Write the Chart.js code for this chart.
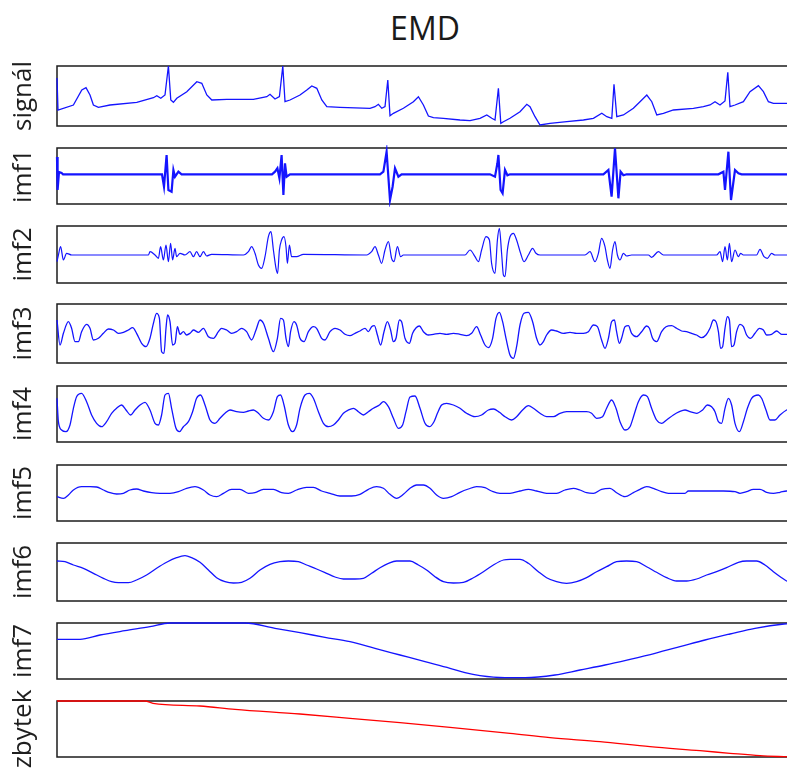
<!DOCTYPE html>
<html><head><meta charset="utf-8">
<script src="https://cdn.jsdelivr.net/npm/chart.js@4.4.1/dist/chart.umd.min.js"></script>
<style>
html,body{margin:0;padding:0;background:#fff;width:787px;height:769px;overflow:hidden;}
#wrap{position:relative;width:787px;height:769px;overflow:hidden;background:#fff;}
#title{position:absolute;left:0;top:12px;width:850px;text-align:center;font-family:'Open Sans',sans-serif;font-size:32px;line-height:32px;color:#1a1a1a;}
canvas{position:absolute;left:0;}
</style></head>
<body><div id="wrap"><div id="title">EMD</div></div>
<script>
// ---- data: [sample index, amplitude] ----
const rowLabels = ['signál','imf1','imf2','imf3','imf4','imf5','imf6','imf7','zbytek'];
const sampleCount = 3680;

const signal = [[0,18],[5,-14],[82,-9],[124,6],[145,8.3],[165,1],[182,-9],[207,-11.3],[265,-9],[399,-6.3],[482,-1.7],[499,0.3],[519,-2.3],[540,1],[557,30],[569,-4],[582,-6.3],[599,-2.3],[649,4.3],[699,14.3],[724,12.7],[749,1],[774,-4],[849,-3.3],[982,-3.3],[1049,-0.7],[1065,1.7],[1090,-3],[1112,-0.7],[1129,30],[1140,-5.7],[1165,-4],[1215,1],[1249,6],[1274,10],[1299,7.7],[1324,-4],[1349,-10.7],[1415,-11.3],[1565,-12.3],[1590,-10.7],[1607,-8.3],[1624,-12.3],[1640,-10.7],[1654,16],[1665,-19.7],[1682,-17.3],[1732,-12.3],[1782,-5.7],[1807,-0.7],[1832,-9],[1857,-20],[1882,-21.7],[1932,-22.3],[2015,-24],[2065,-24.7],[2115,-22.3],[2149,-19],[2174,-22.3],[2190,-24],[2207,7.7],[2219,-27.3],[2232,-25.7],[2265,-22.3],[2315,-15.7],[2349,-8.3],[2365,-10.7],[2390,-20.7],[2415,-29],[2465,-27.3],[2549,-25.7],[2632,-24],[2682,-22.3],[2724,-17.3],[2749,-20.7],[2774,-22.3],[2785,11.7],[2799,-20.7],[2832,-19],[2882,-12.3],[2915,-5.7],[2949,1],[2974,-5.7],[2999,-19],[3032,-17.3],[3082,-14],[3182,-12.3],[3232,-10.7],[3265,-9],[3290,-5.7],[3315,-9],[3340,-5],[3354,23.7],[3365,-10.7],[3390,-9],[3432,-5.7],[3465,4.3],[3507,10.3],[3532,4.3],[3557,-5.7],[3582,-7.3],[3649,-7.3],[3680,-7]];

const imf1 = [[0,19],[3,-14],[10,4],[23,3],[30,1.7],[525,1.7],[535,-10.7],[548,21],[557,-14],[573,-15.7],[582,6],[590,-0.7],[607,4.3],[623,1.7],[1075,1.7],[1090,4.3],[1102,7.7],[1112,-2.3],[1123,21],[1132,-19],[1140,12.7],[1148,-0.7],[1165,1.7],[1615,1.7],[1632,4.3],[1648,24.3],[1665,-24],[1678,-10.7],[1690,7.7],[1707,-0.7],[1723,1.7],[2165,1.7],[2190,-0.7],[2202,12.7],[2207,21],[2218,-14],[2228,-17.3],[2240,6],[2252,0.7],[2265,1.7],[2732,1.7],[2757,6],[2773,-20.7],[2790,27.7],[2807,-22.3],[2818,4.3],[2832,0.7],[2848,1.7],[3307,1.7],[3332,4.3],[3340,-14],[3357,24.3],[3370,-24],[3390,6],[3407,2.7],[3423,1.7],[3680,1.7]];

const imf2 = [[0,-7.2],[7,-0.5],[18,7.8],[32,-5.5],[48,1.2],[73,-0.5],[457,-0.5],[465,2.8],[490,-0.5],[507,-3.8],[518,7.8],[532,-5.5],[545,9.5],[557,-7.2],[568,11.2],[578,-5.5],[590,6.2],[598,-2.2],[615,1.2],[640,-0.5],[665,2.8],[682,-2.2],[698,2.8],[715,-2.2],[732,2.8],[748,-1.5],[773,0.2],[932,-0.5],[957,2.8],[973,7.8],[990,1.2],[1007,-10.5],[1023,-13.8],[1040,-2.2],[1057,17.8],[1070,22.8],[1082,4.5],[1095,-13.8],[1103,-18.8],[1112,4.5],[1123,14.5],[1135,17.8],[1145,7.8],[1152,-8.8],[1162,9.5],[1173,-2.2],[1198,-2.2],[1232,0.2],[1548,-0.5],[1573,2.8],[1590,7.8],[1607,-0.5],[1623,-8.8],[1640,4.5],[1657,12.8],[1673,-3.8],[1685,-7.2],[1702,7.8],[1718,-2.2],[1732,-0.5],[2040,-0.5],[2065,4.5],[2090,-2.2],[2107,-7.2],[2123,4.5],[2145,17.8],[2162,14.5],[2173,-8.8],[2190,-18.8],[2202,14.5],[2212,26.2],[2223,1.2],[2232,-20.5],[2240,-22.2],[2252,4.5],[2265,17.8],[2282,21.2],[2298,14.5],[2318,1.2],[2335,-7.2],[2357,-0.5],[2378,6.2],[2395,1.2],[2415,-0.5],[2640,-0.5],[2665,2.8],[2690,-7.2],[2707,1.2],[2723,16.2],[2740,7.8],[2752,-5.5],[2765,-13.8],[2778,4.5],[2790,12.8],[2802,-0.5],[2815,-5.5],[2832,1.2],[2848,-1.5],[2873,-0.5],[2957,-0.5],[2973,-2.8],[3007,2.8],[3032,-0.5],[3298,-0.5],[3315,2.8],[3328,-7.2],[3340,7.8],[3352,-5.5],[3362,11.2],[3373,-7.2],[3390,4.5],[3407,-2.2],[3418,1.2],[3432,-0.5],[3498,-0.5],[3515,5.2],[3535,-2.2],[3552,-3.8],[3573,1.2],[3590,-0.5],[3680,-0.5]];

const imf3 = [[0,13.5],[15,-11.5],[32,0.2],[57,11.8],[73,5.2],[90,-8.2],[107,-8.2],[123,1.8],[148,9.2],[165,5.2],[182,-6.5],[207,-4.8],[232,0.2],[257,4.5],[282,3.5],[307,0.2],[332,1.2],[357,3.5],[378,5.8],[398,0.2],[423,-9.8],[445,-13.2],[465,-4.8],[482,10.2],[498,20.2],[512,15.2],[523,-18.2],[535,-19.8],[545,5.2],[553,18.5],[565,11.8],[578,-11.5],[590,-9.8],[602,6.8],[615,-0.8],[632,1.8],[648,-1.5],[665,0.2],[682,3.5],[707,1.2],[732,5.2],[757,-3.2],[782,-4.8],[807,1.8],[823,5.2],[848,3.5],[873,0.2],[898,1.8],[923,5.2],[948,1.8],[973,-6.5],[995,3.5],[1015,13.5],[1032,10.2],[1057,-4.8],[1082,-18.2],[1102,-4.8],[1118,15.2],[1132,13.5],[1145,-4.8],[1157,-13.2],[1168,1.8],[1185,11.8],[1198,8.5],[1215,-4.8],[1235,-8.2],[1257,1.8],[1282,6.8],[1298,5.2],[1323,-4.8],[1340,-6.5],[1365,1.8],[1390,5.2],[1415,3.5],[1440,-0.8],[1465,-2.2],[1490,0.2],[1515,2.5],[1540,5.2],[1557,1.8],[1573,6.8],[1587,7.8],[1602,-1.5],[1618,-11.5],[1635,1.8],[1652,11.8],[1668,3.5],[1682,-8.2],[1695,-4.8],[1712,13.5],[1723,11.8],[1740,-4.8],[1762,-9.8],[1778,0.2],[1812,7.5],[1832,1.8],[1857,-1.5],[1882,-0.8],[1915,0.2],[1948,-0.8],[1982,0.2],[2015,-0.8],[2048,-2.2],[2073,0.2],[2098,6.8],[2118,-1.5],[2140,-11.5],[2157,-14.2],[2178,-4.8],[2195,15.2],[2212,21.2],[2228,11.8],[2245,-4.8],[2265,-21.5],[2282,-24.8],[2298,-13.2],[2315,8.5],[2335,20.2],[2357,21.2],[2378,11.8],[2398,-4.8],[2415,-11.5],[2432,-8.2],[2448,-1.5],[2473,3.5],[2498,2.5],[2532,0.2],[2565,1.2],[2598,0.2],[2632,0.2],[2657,1.8],[2682,8.5],[2702,6.8],[2723,-6.5],[2740,-14.8],[2757,-4.8],[2773,11.8],[2787,13.5],[2798,1.8],[2812,-9.8],[2823,-4.8],[2840,6.8],[2857,7.8],[2873,0.2],[2898,-3.2],[2923,1.8],[2948,7.5],[2962,5.2],[2978,-4.8],[2998,-8.2],[3023,1.8],[3045,6.8],[3073,7.8],[3098,5.2],[3123,2.5],[3148,1.8],[3173,0.2],[3198,-1.5],[3223,-4.2],[3245,-1.5],[3265,5.2],[3282,13.5],[3295,11.8],[3307,1.8],[3318,-14.8],[3328,-13.2],[3340,5.2],[3352,16.8],[3362,13.5],[3373,-13.2],[3385,-11.5],[3398,1.8],[3415,9.2],[3432,6.8],[3448,-1.5],[3468,-4.8],[3490,0.2],[3512,5.2],[3532,3.5],[3548,-1.5],[3573,-0.8],[3598,2.5],[3623,-0.8],[3648,-0.8],[3680,-0.8]];

const imf4 = [[0,15.7],[7,-7.7],[23,-16],[45,-17.7],[65,-11],[82,5.7],[98,17.3],[123,20.7],[148,12.3],[173,-1],[198,-9.3],[223,-12.7],[248,-7.7],[273,0.7],[298,5.7],[323,9],[345,4],[368,-1],[390,4],[415,9],[440,11.7],[465,4],[490,-9.3],[507,-11],[523,-1],[540,19],[557,20.7],[573,5.7],[595,-14.3],[612,-17.7],[632,-12.7],[657,-7.7],[678,2.3],[698,15.7],[718,19],[740,9],[765,-6],[790,-9.3],[815,-4.3],[840,0.7],[865,4],[898,2.3],[932,1.7],[957,3],[982,4],[1007,0.7],[1032,-4.3],[1057,-6],[1082,2.3],[1102,17.3],[1118,19],[1135,9],[1157,-11],[1178,-17.7],[1198,-11],[1215,5.7],[1240,19],[1262,20.7],[1282,15.7],[1307,2.3],[1332,-9.3],[1357,-12.7],[1382,-11],[1407,-6],[1432,0.7],[1457,4],[1482,5.7],[1507,2.3],[1532,-1],[1557,2.3],[1582,5.7],[1612,9],[1632,12.3],[1657,7.3],[1682,-4.3],[1707,-14.3],[1728,-11],[1745,2.3],[1765,17],[1790,18],[1815,5.7],[1840,-9.3],[1862,-12.7],[1885,-7.7],[1902,0.7],[1923,9],[1948,10.7],[1982,9],[2015,5.7],[2048,0.7],[2090,-2.7],[2123,-1],[2157,4],[2182,5],[2212,1.7],[2240,-2.7],[2273,-6],[2298,-2.7],[2328,4],[2357,8.3],[2382,5.7],[2415,0.7],[2448,-2.7],[2482,-2.7],[2515,0.7],[2548,2.3],[2598,2.3],[2648,2.3],[2673,0.7],[2698,-4.3],[2728,-2.7],[2748,5.7],[2773,14],[2795,5.7],[2815,-7.7],[2840,-16],[2865,-12.7],[2885,-1],[2907,12.3],[2932,19],[2952,17.3],[2973,5.7],[2998,-6],[3023,-9.3],[3048,-6],[3082,-1],[3112,2.3],[3140,4],[3165,2.3],[3198,0.7],[3228,4],[3252,9],[3273,7.3],[3290,2.3],[3307,-7.7],[3323,-9.3],[3340,5.7],[3357,15.7],[3373,9],[3390,-9.3],[3412,-17.7],[3432,-7.7],[3452,5.7],[3473,15.7],[3507,19],[3523,15.7],[3545,4],[3565,-6],[3590,-6],[3615,-1],[3648,4],[3680,6]];

const imf5 = [[0,-3.7],[32,-5.3],[57,-2],[82,3],[123,6.3],[165,6.3],[198,6],[232,3],[265,0.3],[298,-1],[332,-0.3],[365,3],[398,4],[432,2],[473,0.3],[515,-0.3],[565,-0.3],[607,1.3],[648,4.7],[690,6.3],[732,3],[765,-2],[798,-3.7],[832,-0.3],[873,3.7],[915,3.7],[957,-0.3],[990,0.3],[1032,3.7],[1082,3.7],[1123,0.3],[1157,-0.3],[1198,3],[1248,5.7],[1282,5.7],[1323,2],[1365,-0.3],[1415,-3],[1473,-3],[1515,-1.3],[1557,3.7],[1598,6.3],[1632,4.7],[1665,-1.3],[1698,-5.3],[1732,-1.3],[1765,4.7],[1798,8],[1832,8],[1865,4.7],[1898,-2],[1932,-5.3],[1973,-3.7],[2015,0.7],[2057,4],[2098,6.3],[2140,5.3],[2173,2],[2215,-0.3],[2265,-0.3],[2315,2],[2357,3.7],[2398,2],[2448,-0.3],[2498,-0.3],[2540,3],[2582,4.7],[2615,3],[2648,0.3],[2682,-0.3],[2723,3.7],[2765,4.7],[2798,0.3],[2840,-3.7],[2882,0.3],[2915,3.7],[2948,6.3],[2982,4.7],[3023,1.3],[3057,-0.3],[3098,-0.3],[3140,-0.3],[3157,2],[3215,2],[3265,2],[3332,2],[3390,1.3],[3415,-0.3],[3448,1.3],[3482,3.7],[3515,3.7],[3548,0.7],[3582,-0.3],[3615,0.7],[3648,2],[3680,2]];

const imf6 = [[0,11],[40,10.3],[82,7],[132,3.7],[182,-1.3],[232,-6.3],[273,-9.7],[307,-10.7],[357,-10.7],[398,-8],[448,-3],[498,3.7],[548,9.7],[598,14.3],[640,16.3],[673,14.3],[715,9.7],[757,2],[798,-5.7],[840,-9.7],[882,-11],[923,-10.3],[965,-6.3],[1015,2],[1065,7.7],[1115,10.3],[1157,11],[1207,10.3],[1248,7],[1298,3],[1348,-1.3],[1390,-5],[1432,-7],[1490,-7],[1532,-6.3],[1573,-1.3],[1615,4.3],[1657,8.7],[1698,11],[1740,11],[1765,11],[1807,7],[1848,2],[1890,-4.7],[1932,-9.7],[1982,-11],[2032,-10.3],[2082,-5.7],[2132,0.3],[2182,7],[2232,12],[2265,12.7],[2315,12.7],[2357,8.7],[2407,0.3],[2448,-5.7],[2498,-9.7],[2548,-11.3],[2598,-9.7],[2648,-5.7],[2698,0.3],[2748,5.3],[2798,10.3],[2848,11],[2898,10.3],[2948,5.3],[2998,-0.3],[3048,-5.7],[3098,-9],[3148,-9],[3198,-7],[3248,-3],[3298,0.3],[3348,4.3],[3407,9.7],[3448,11],[3498,11],[3540,7],[3582,0.3],[3623,-5.7],[3648,-9],[3680,-11]];

const imf7 = [[0,11.7],[115,11.7],[215,16],[340,20.3],[465,24.3],[565,28],[940,28],[1090,22.7],[1215,18.3],[1340,13.7],[1465,9.3],[1590,2.7],[1715,-4],[1840,-10.7],[1965,-17.3],[2040,-21.7],[2115,-24.7],[2240,-26.7],[2340,-26.7],[2490,-24],[2615,-19],[2740,-14],[2865,-8.3],[2990,-2.3],[3115,4.3],[3240,11],[3365,17],[3490,22.7],[3635,27],[3680,27.5]];

const zbytek = [[0,28],[440,28],[480,25.7],[715,23],[890,19.7],[1215,15],[1465,10.7],[1715,6.3],[1965,1.7],[2265,-4.3],[2465,-8.7],[2715,-12.7],[2965,-17.7],[3215,-21.7],[3365,-24.3],[3515,-26.7],[3635,-27.7],[3680,-28]];

// ---- layout / styling (kept apart from the data) ----
const panels = [
  {label: rowLabels[0], data: signal, top: 66,  bottom: 126, half: 30,   color: 'rgb(20,20,255)', width: 1.3, mode: 'default'},
  {label: rowLabels[1], data: imf1,   top: 148, bottom: 204, half: 28,   color: 'rgb(20,20,255)', width: 2.2, mode: 'default'},
  {label: rowLabels[2], data: imf2,   top: 226, bottom: 283, half: 28.5, color: 'rgb(20,20,255)', width: 1.2, mode: 'monotone'},
  {label: rowLabels[3], data: imf3,   top: 304, bottom: 363, half: 29.5, color: 'rgb(20,20,255)', width: 1.3, mode: 'monotone'},
  {label: rowLabels[4], data: imf4,   top: 386, bottom: 442, half: 28,   color: 'rgb(20,20,255)', width: 1.3, mode: 'monotone'},
  {label: rowLabels[5], data: imf5,   top: 465, bottom: 521, half: 28,   color: 'rgb(20,20,255)', width: 1.3, mode: 'monotone'},
  {label: rowLabels[6], data: imf6,   top: 543, bottom: 601, half: 29,   color: 'rgb(20,20,255)', width: 1.3, mode: 'monotone'},
  {label: rowLabels[7], data: imf7,   top: 623, bottom: 679, half: 28,   color: 'rgb(20,20,255)', width: 1.3, mode: 'monotone'},
  {label: rowLabels[8], data: zbytek, top: 701, bottom: 757, half: 28,   color: 'rgb(255,0,0)',   width: 1.3, mode: 'monotone'}
];
const PAD = 14;

const framePlugin = {
  id: 'frame',
  beforeDatasetsDraw(chart) {
    const {ctx, chartArea: a} = chart;
    ctx.save();
    ctx.strokeStyle = '#1c1c1c';
    ctx.lineWidth = 1.5;
    ctx.strokeRect(a.left, a.top, a.right - a.left, a.bottom - a.top);
    ctx.restore();
  }
};

const wrap = document.getElementById('wrap');
panels.forEach(p => {
  const c = document.createElement('canvas');
  const h = (p.bottom - p.top) + 2 * PAD;
  c.width = 800; c.height = h;
  c.style.width = '800px'; c.style.height = h + 'px';
  c.style.top = (p.top - PAD) + 'px';
  wrap.appendChild(c);
  new Chart(c, {
    type: 'line',
    data: {
      datasets: [{
        data: p.data.map(([x, y]) => ({x, y})),
        borderColor: p.color,
        borderWidth: p.width,
        pointRadius: 0,
        fill: false,
        clip: 3,
        tension: p.mode === 'monotone' ? 0.4 : 0,
        cubicInterpolationMode: p.mode
      }]
    },
    options: {
      responsive: false,
      animation: false,
      devicePixelRatio: 1,
      events: [],
      layout: {padding: {left: 0, right: 7, top: PAD, bottom: PAD}},
      plugins: {legend: {display: false}, tooltip: {enabled: false}, title: {display: false}},
      scales: {
        x: {type: 'linear', min: 0, max: sampleCount, display: false},
        y: {
          type: 'linear', min: -p.half, max: p.half, display: true,
          ticks: {display: false}, grid: {display: false}, border: {display: false},
          title: {display: true, text: p.label, color: '#1e1e1e',
                  font: {family: "'Open Sans', sans-serif", size: 26},
                  padding: {top: 8, bottom: 0}},
          afterFit(s) { s.width = 57; }
        }
      }
    },
    plugins: [framePlugin]
  });
});
</script>
</body></html>
